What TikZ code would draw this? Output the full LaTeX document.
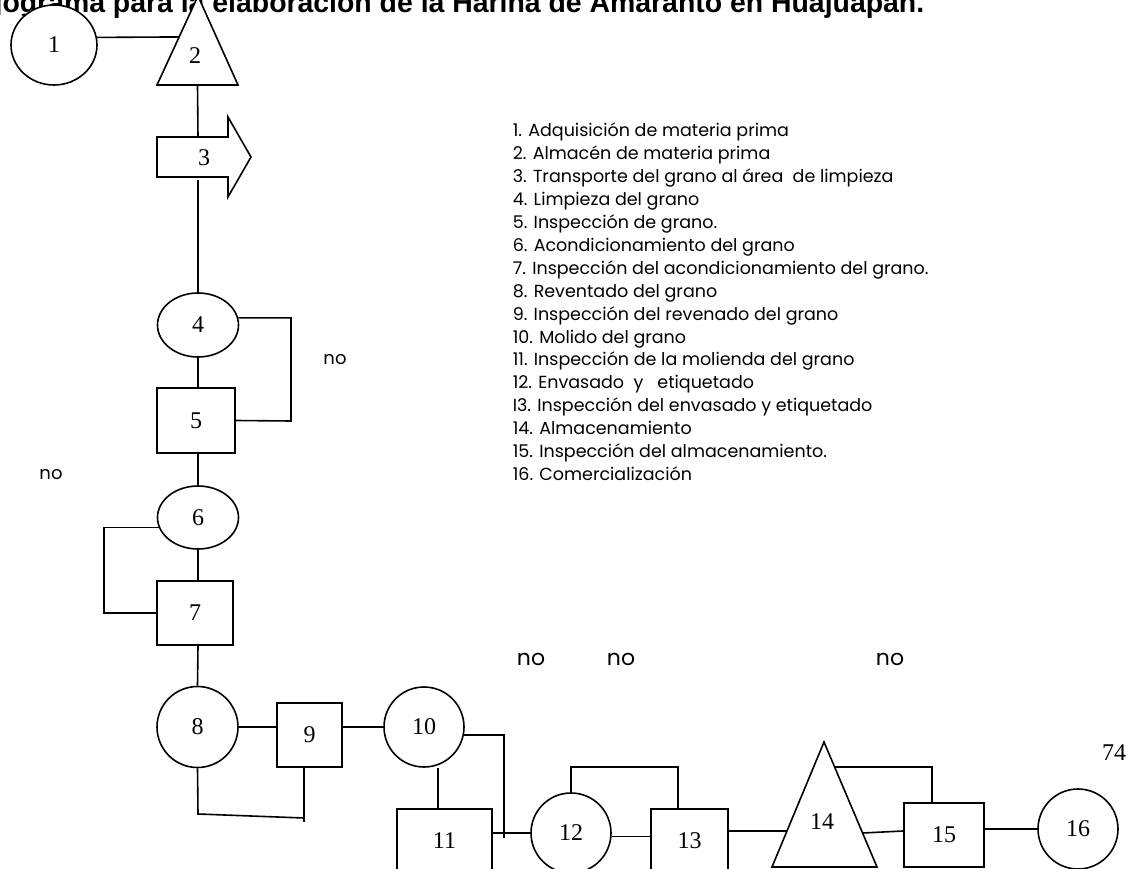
\documentclass[tikz,border=0pt]{standalone}
\usepackage{fontspec}
\setmainfont{Liberation Serif}
\newfontfamily\gotica{Poppins}
\newfontfamily\arialn{Liberation Sans}
\usetikzlibrary{shapes,calc}
\tikzset{oper/.style={ellipse,draw=black,fill=white,inner sep=0pt,font=\fontsize{24}{24}\selectfont},
insp/.style={rectangle,draw=black,fill=white,inner sep=0pt,font=\fontsize{24}{24}\selectfont},
num/.style={inner sep=0pt,font=\fontsize{24}{24}\selectfont},
ley/.style={anchor=base west,inner sep=0pt,font=\gotica\fontsize{17.5}{17.5}\selectfont},
nolab/.style={inner sep=0pt,font=\gotica\fontsize{18}{18}\selectfont},
nogrande/.style={inner sep=0pt,font=\gotica\fontsize{22}{22}\selectfont}}

\begin{document}
\begin{tikzpicture}[x=1pt,y=-1pt,line width=1.6pt]
\useasboundingbox (0,0) rectangle (1133,869);
\node[anchor=base east,inner sep=0pt,font=\arialn\bfseries\fontsize{28.4}{28.4}\selectfont] (titulo) at (925,13) {Flujograma para la elaboración de la Harina de Amaranto en Huajuapan.};

\coordinate (t2a) at (198,-4);
\coordinate (t2l) at (157,85);
\coordinate (t2r) at (238,85);
\coordinate (a3t) at (198,137);
\coordinate (a3b) at (198,180);
\coordinate (t14a) at (824,742);
\coordinate (t14l) at (772,867);
\coordinate (t14r) at (877,867);

\node[oper,minimum width=86,minimum height=80] (n1) at (54,45) {1};
\draw[fill=white] (t2l) -- (t2a) -- (t2r) -- cycle;
\node[num] (n2) at (195,56) {2};
\draw (n1.10) -- ($(t2l)!0.54!(t2a)$);
\draw ($(t2l)!0.5!(t2r)$) -- (a3t);
\draw (157,137) -- (228,137) -- (228,117) -- (251,157) -- (228,197) -- (228,177) -- (157,177) -- cycle;
\node[num] (n3) at (204,158) {3};

\node[oper,minimum width=81,minimum height=64] (n4) at (198,325) {4};
\node[insp,minimum width=78,minimum height=65] (n5) at (196,420.5) {5};
\node[oper,minimum width=81,minimum height=63] (n6) at (198,517.5) {6};
\node[insp,minimum width=76,minimum height=64] (n7) at (195,613) {7};
\draw (a3b) -- (n4.north);
\draw (n4.south) -- (n4.south |- n5.north);
\draw (n4.south |- n5.south) -- (n6.north);
\draw (n6.south) -- (n6.south |- n7.north);
\draw (n4.10) -| (291,421) -- (n5.east);
\draw (n6.194) -| (104,613) -- (n7.west);
\node[nolab] (no1) at (335,360) {no};
\node[nolab] (no2) at (51,475) {no};

\node[oper,minimum size=81] (n8) at (197.5,727) {8};
\node[insp,minimum width=65,minimum height=64] (n9) at (309.5,735) {9};
\node[oper,minimum size=80] (n10) at (424,727) {10};
\node[insp,minimum width=95,minimum height=64] (n11) at (444.5,841) {11};
\node[oper,minimum size=80] (n12) at (571,833) {12};
\node[insp,minimum width=77,minimum height=64] (n13) at (689.5,841) {13};
\draw[fill=white] (t14l) -- (t14a) -- (t14r) -- cycle;
\node[num] (n14) at (822,822) {14};
\node[insp,minimum width=80,minimum height=64] (n15) at (944,835) {15};
\node[oper,minimum size=80] (n16) at (1078,829) {16};

\draw (n6.south |- n7.south) -- (n8.north);
\draw (n8.east) -- (n8.east -| n9.west);
\draw (n9.east |- n10.west) -- (n10.west);
\draw (n8.south) -- (198,814) -- (304,818);
\draw ([xshift=-5.5]n9.south) -- ++(0,54);
\draw (n10.-11) -| (504,838);
\draw ([xshift=14]n10.south) -- ([xshift=-6.5]n11.north);
\draw ([yshift=8]n11.east) -- (n12.west);
\draw (n12.-5) -- (n12.-5 -| n13.west);
\draw (n12.north) |- (678,767) -- ([xshift=-11.5]n13.north);
\draw ([yshift=10]n13.east) -- ($(t14l)!0.288!(t14a)$);
\draw ($(t14r)!0.272!(t14a)$) -- ([yshift=4]n15.west);
\draw ($(t14r)!0.8!(t14a)$) -| ([xshift=-12]n15.north);
\draw (n15.east |- n16.west) -- (n16.west);

\node[nogrande] (no3) at (531,659) {no};
\node[nogrande] (no4) at (621,659) {no};
\node[nogrande] (no5) at (890,659) {no};
\node[num] (pag) at (1114,753) {74};

\foreach \t [count=\i] in {1. Adquisición de materia prima,2. Almacén de materia prima,3. Transporte del grano al área\ \ de limpieza,4. Limpieza del grano,5. Inspección de grano.,6. Acondicionamiento del grano,7. Inspección del acondicionamiento del grano.,8. Reventado del grano,9. Inspección del revenado del grano,10. Molido del grano,11. Inspección de la molienda del grano,12. Envasado\ \ y\ \ \ etiquetado,I3. Inspección del envasado y etiquetado,14. Almacenamiento,15. Inspección del almacenamiento.,16. Comercialización}
  \node[ley] (ley\i) at (512,{114+22.9*\i}) {\t};
\end{tikzpicture}
\end{document}
